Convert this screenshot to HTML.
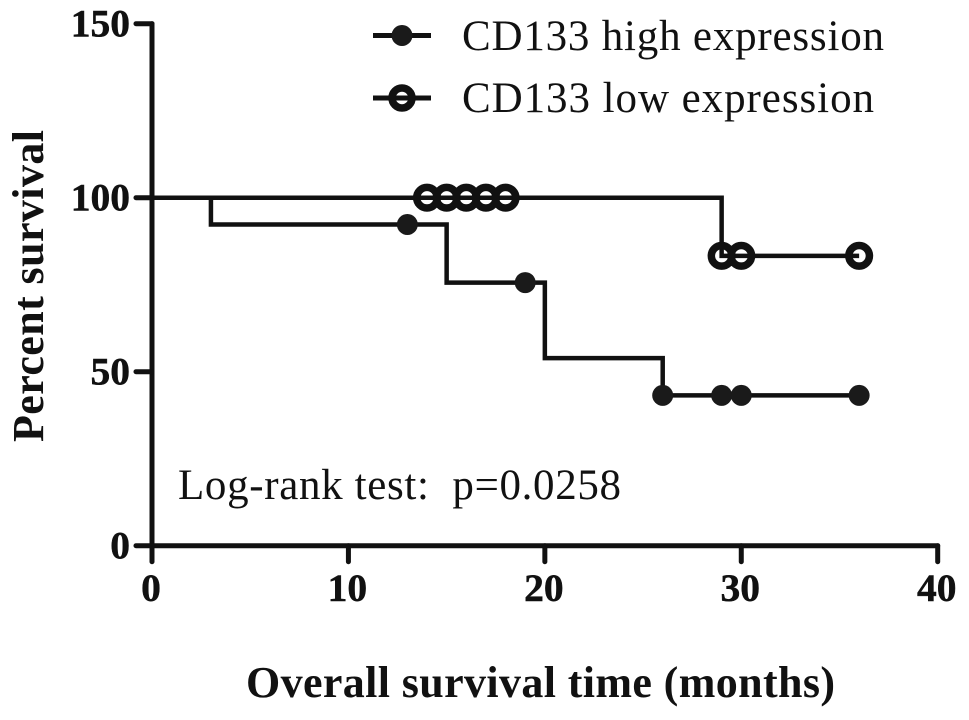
<!DOCTYPE html>
<html lang="en">
<head>
<meta charset="utf-8">
<title>Overall survival by CD133 expression</title>
<style>
html,body{margin:0;padding:0;background:#fff;}
svg{display:block;}
text{font-family:"Liberation Serif",serif;fill:#111;}
.tick{font-size:39.5px;font-weight:bold;stroke:#111;stroke-width:.5px;}
.title{font-size:44px;font-weight:bold;}
.plain{font-size:43px;}
</style>
</head>
<body>
<svg id="chart" xmlns="http://www.w3.org/2000/svg" width="969" height="720" viewBox="0 0 969 720">
<text class="title" transform="translate(43,442) rotate(-90)" textLength="312" lengthAdjust="spacing">Percent survival</text>
<text class="title" x="246" y="697" textLength="589" lengthAdjust="spacing">Overall survival time (months)</text>
<text class="plain" x="178" y="499" textLength="443" lengthAdjust="spacing" xml:space="preserve">Log-rank test:  p=0.0258</text>
<g>
<g>
<line x1="373" x2="431" y1="35.5" y2="35.5" stroke="#111" stroke-width="5"/>
<circle cx="402" cy="35.5" r="10.5" fill="#1a1a1a"/>
<text class="plain" x="462" y="50" textLength="422" lengthAdjust="spacing">CD133 high expression</text>
</g>
<g>
<line x1="373" x2="431" y1="98" y2="98" stroke="#111" stroke-width="5"/>
<circle cx="402" cy="98" r="10" fill="none" stroke="#111" stroke-width="7.5"/>
<text class="plain" x="462" y="112" textLength="412" lengthAdjust="spacing">CD133 low expression</text>
</g>
</g>
<g id="plot"></g>
</svg>
<script>
const xTicks = [0, 10, 20, 30, 40];
const yTicks = [0, 50, 100, 150];
const highTimes = [0, 3, 15, 20, 26, 36];
const highValues = [100, 92.3, 75.6, 53.9, 43.2, 43.2];
const highCensorTimes = [13, 19, 26, 29, 30, 36];
const highCensorValues = [92.3, 75.6, 43.2, 43.2, 43.2, 43.2];
const lowTimes = [0, 29, 36];
const lowValues = [100, 83.3, 83.3];
const lowCensorTimes = [14, 15, 16, 17, 18, 29, 30, 36];
const lowCensorValues = [100, 100, 100, 100, 100, 83.3, 83.3, 83.3];

const SVGNS = 'http://www.w3.org/2000/svg';
const plot = document.getElementById('plot');
function xScale(v) { return 152 + v * (937.7 - 152) / 40; }
function yScale(v) { return 545.7 - v * (545.7 - 197.7) / 100; }
function make(tag, attrs, parent) {
  const el = document.createElementNS(SVGNS, tag);
  Object.keys(attrs).forEach(function (k) { el.setAttribute(k, attrs[k]); });
  (parent || plot).appendChild(el);
  return el;
}
function stepPath(times, values) {
  let d = 'M' + xScale(times[0]) + ' ' + yScale(values[0]);
  for (let i = 1; i < times.length; i++) {
    d += 'H' + xScale(times[i]) + 'V' + yScale(values[i]);
  }
  return d;
}

const axisStyle = { stroke: '#111', 'stroke-width': 5, 'stroke-linecap': 'round', fill: 'none' };

const yAxis = make('line', Object.assign({ x1: xScale(0), x2: xScale(0), y1: yScale(yTicks[yTicks.length - 1]), y2: yScale(0) }, axisStyle));


const xAxis = make('line', Object.assign({ x1: xScale(0), x2: xScale(xTicks[xTicks.length - 1]), y1: yScale(0), y2: yScale(0) }, axisStyle));



yTicks.forEach(function (t) {
  const mark = make('line', Object.assign({ x1: xScale(0) - 16, x2: xScale(0), y1: yScale(t), y2: yScale(t) }, axisStyle));
  
  
  const label = make('text', { x: 130, y: yScale(t) + 13, 'text-anchor': 'end', class: 'tick' });
  label.textContent = t;
  
  
});

xTicks.forEach(function (t) {
  const mark = make('line', Object.assign({ x1: xScale(t), x2: xScale(t), y1: yScale(0), y2: yScale(0) + 16 }, axisStyle));
  
  
  const label = make('text', { x: xScale(t) - 1, y: 601, 'text-anchor': 'middle', class: 'tick' });
  label.textContent = t;
  
  
});

const highLine = make('path', { d: stepPath(highTimes, highValues), fill: 'none', stroke: '#111', 'stroke-width': 4.5 });


const lowLine = make('path', { d: stepPath(lowTimes, lowValues), fill: 'none', stroke: '#111', 'stroke-width': 4.5 });



highCensorTimes.forEach(function (t, i) {
  const c = make('circle', { cx: xScale(t), cy: yScale(highCensorValues[i]), r: 10.5, fill: '#1a1a1a' });
  
  
});
lowCensorTimes.forEach(function (t, i) {
  const c = make('circle', { cx: xScale(t), cy: yScale(lowCensorValues[i]), r: 10.3, fill: 'none', stroke: '#111', 'stroke-width': 7.5 });
  
  
});
</script>
</body>
</html>
